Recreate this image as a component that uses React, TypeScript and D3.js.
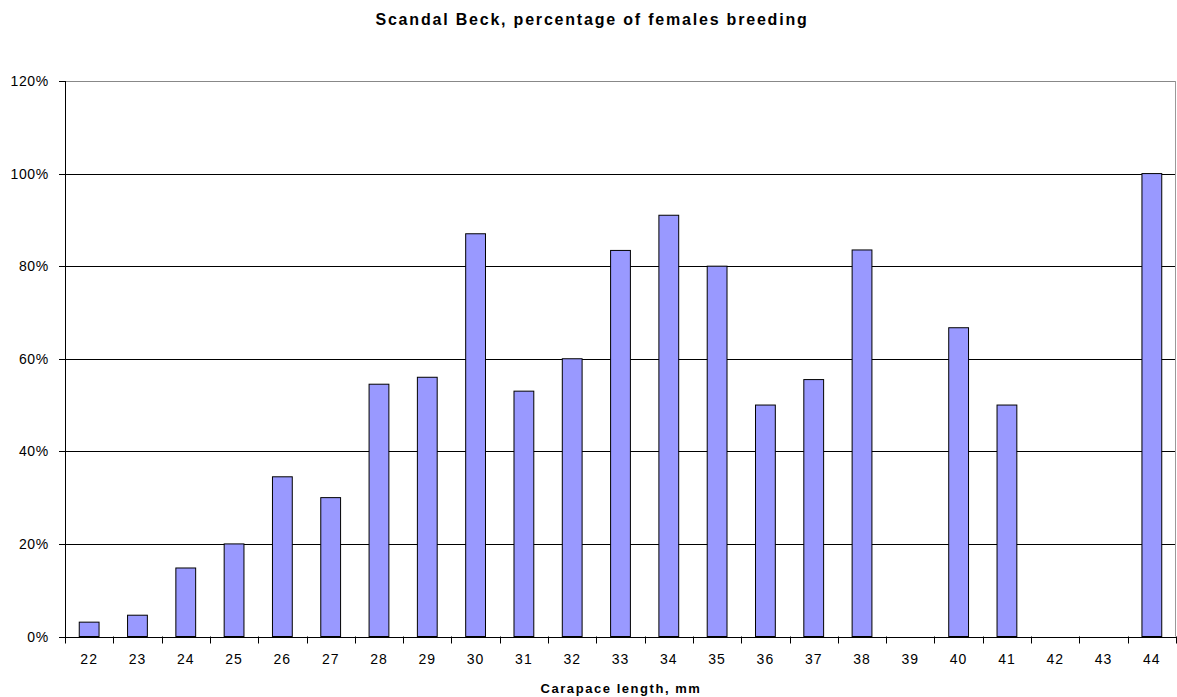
import React from "react";
import * as d3 from "d3";

const categories = ["22","23","24","25","26","27","28","29","30","31","32","33","34","35","36","37","38","39","40","41","42","43","44"];
const values = [0.031,0.046,0.148,0.2,0.345,0.3,0.545,0.56,0.87,0.53,0.6,0.834,0.91,0.8,0.5,0.555,0.835,0,0.667,0.5,0,0,1.0];
const yTicks = [0,0.2,0.4,0.6,0.8,1.0,1.2];

export default function App() {
  const W = 1177, H = 697;
  const left = 65, right = 1176, top = 81, bottom = 636.5;
  const x = d3.scaleBand<string>().domain(categories).range([left, right]).paddingInner(0.59).paddingOuter(0.295);
  const xb = d3.scaleBand<string>().domain(categories).range([left, right]);
  const y = d3.scaleLinear().domain([0, 1.2]).range([bottom, top]);
  const font = "Liberation Sans, Arial, sans-serif";
  return (
    <svg width={W} height={H} style={{ position: "absolute", left: 0, top: 0, background: "#fff" }}>
      <text x={592} y={25} textAnchor="middle" fontFamily={font} fontWeight="bold" fontSize={16} letterSpacing={1.8}>Scandal Beck, percentage of females breeding</text>
      {yTicks.map((t) => (
        <g key={t}>
          <line x1={left} x2={right} y1={Math.round(y(t)) + 0.5} y2={Math.round(y(t)) + 0.5} stroke={t === 1.2 ? "#888" : "#000"} strokeWidth={1} />
          <line x1={left - 6} x2={left} y1={Math.round(y(t)) + 0.5} y2={Math.round(y(t)) + 0.5} stroke="#000" />
          <text x={49} y={y(t) + 5} textAnchor="end" fontFamily={font} fontSize={14} letterSpacing={0.7}>{d3.format(".0%")(t)}</text>
        </g>
      ))}
      <line x1={right - 0.5} x2={right - 0.5} y1={top} y2={bottom} stroke="#999" />
      {categories.map((c, i) => (
        values[i] > 0 ? (
          <rect key={c} x={x(c)!} y={y(values[i])} width={x.bandwidth()} height={bottom - y(values[i])} fill="#9999FF" stroke="#000" strokeWidth={1} />
        ) : null
      ))}
      <line x1={left + 0.5} x2={left + 0.5} y1={top} y2={bottom + 7} stroke="#000" />
      {categories.map((c, i) => (
        <g key={"t" + c}>
          <line x1={Math.round(xb(c)! + xb.bandwidth()) + 0.5} x2={Math.round(xb(c)! + xb.bandwidth()) + 0.5} y1={bottom} y2={bottom + 7} stroke="#000" />
          <text x={xb(c)! + xb.bandwidth() / 2} y={664} textAnchor="middle" fontFamily={font} fontSize={14} letterSpacing={1}>{c}</text>
        </g>
      ))}
      <text x={621} y={693} textAnchor="middle" fontFamily={font} fontWeight="bold" fontSize={13} letterSpacing={1.55}>Carapace length, mm</text>
    </svg>
  );
}
